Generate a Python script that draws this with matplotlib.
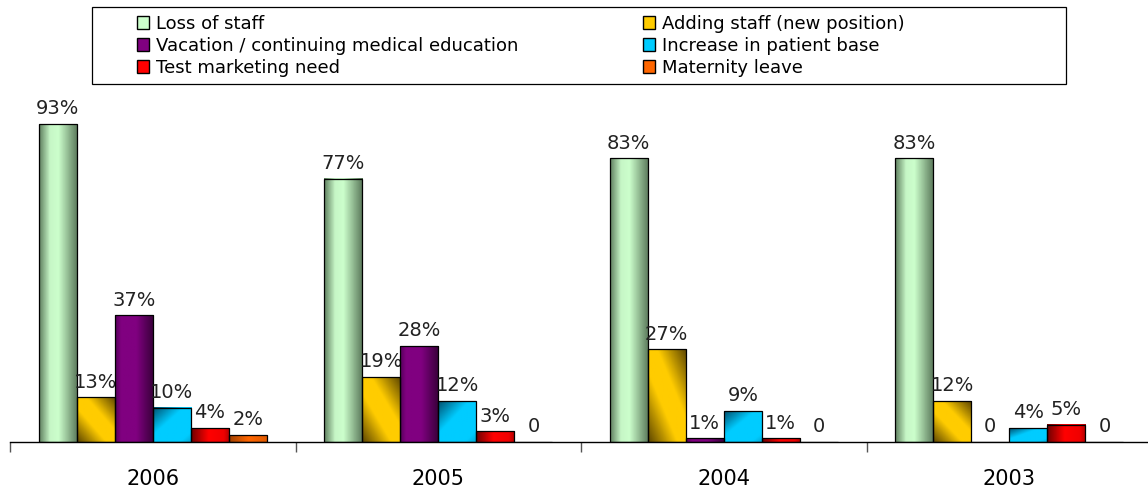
"""Reasons for hiring locum tenens, grouped by survey year."""

import matplotlib

matplotlib.use("Agg")

import matplotlib.pyplot as plt
import numpy as np
from matplotlib.colors import LinearSegmentedColormap
from matplotlib.patches import Patch, Rectangle

years = ["2006", "2005", "2004", "2003"]
reasons = [
    "Loss of staff",
    "Adding staff (new position)",
    "Vacation / continuing medical education",
    "Increase in patient base",
    "Test marketing need",
    "Maternity leave",
]
loss_of_staff = [93, 77, 83, 83]
adding_staff = [13, 19, 27, 12]
vacation_cme = [37, 28, 1, 0]
patient_base = [10, 12, 9, 4]
test_marketing = [4, 3, 1, 5]
maternity = [2, 0, 0, 0]
series = [loss_of_staff, adding_staff, vacation_cme, patient_base, test_marketing, maternity]

base_colors = ["#ccffcc", "#ffcc00", "#800080", "#00ccff", "#ff0000", "#ff6600"]
# (direction, colour stops) for the shaded bar faces
shading = [
    ("h", [(0, "#5f7f5f"), (0.28, "#c6f6c6"), (0.5, "#ccffcc"), (1, "#5a785a")]),
    ("d", [(0, "#5c4500"), (0.38, "#ffcc00"), (0.62, "#ffcc00"), (1, "#5c4500")]),
    ("h", [(0, "#55005a"), (0.15, "#800080"), (0.55, "#800080"), (1, "#38003a")]),
    ("a", [(0, "#004f6e"), (0.4, "#00ccff"), (0.85, "#00ccff"), (1, "#00a8d4")]),
    ("h", [(0, "#700000"), (0.45, "#ff0000"), (0.85, "#f00000"), (1, "#b00000")]),
    ("h", [(0, "#a04000"), (0.5, "#ff6600"), (1, "#e05a00")]),
]


def gradient_image(kind, stops, n=64):
    u, v = np.meshgrid(np.linspace(0, 1, n), np.linspace(0, 1, n))
    if kind == "h":
        t = u
    elif kind == "d":
        t = (u + v) / 2
    else:
        t = (u + 1 - v) / 2
    cmap = LinearSegmentedColormap.from_list("shade", stops)
    return cmap(t)


fig = plt.figure(figsize=(11.48, 4.94), dpi=100)
ax = fig.add_axes([10 / 1148, 52.3 / 494, 1142 / 1148, 351.9 / 494])

n_groups = len(years)
n_series = len(series)
width = 0.8 / n_series
x = np.arange(n_groups)

for j, values in enumerate(series):
    pos = x + 0.1 + (j + 0.5) * width
    bars = ax.bar(pos, values, width, facecolor="none", edgecolor="black",
                  linewidth=0.9, zorder=3)
    kind, stops = shading[j]
    img = gradient_image(kind, stops)
    for rect, val in zip(bars, values):
        if val <= 0:
            continue
        x0, y0 = rect.get_x(), rect.get_y()
        ax.imshow(img, extent=(x0, x0 + rect.get_width(), y0, y0 + rect.get_height()),
                  origin="lower", aspect="auto", interpolation="bilinear",
                  clip_path=rect, zorder=2)
    labels = [f"{v}%" if v else "0" for v in values]
    ax.bar_label(bars, labels=labels, padding=4, fontsize=14, color="#222222")

ax.set_xlim(0, n_groups)
ax.set_ylim(0, 103)

for side in ["left", "right", "top"]:
    ax.spines[side].set_visible(False)
ax.spines["bottom"].set_linewidth(1.0)
ax.set_yticks([])

ax.set_xticks(np.arange(n_groups + 1))
ax.set_xticklabels([])
ax.tick_params(axis="x", which="major", direction="out", length=7, width=1, color="#555555")
ax.set_xticks(x + 0.5, minor=True)
ax.set_xticklabels(years, minor=True, fontsize=15)
ax.tick_params(axis="x", which="minor", length=0, pad=20)

# legend frame, then the two columns of entries inside it
fig.patches.append(Rectangle((92 / 1148, 410 / 494), 974 / 1148, 77 / 494,
                             transform=fig.transFigure, facecolor="white",
                             edgecolor="black", linewidth=0.9))
handles = [Patch(facecolor=c, edgecolor="black", linewidth=1.0) for c in base_colors]
for col, (x_anchor, idx) in enumerate([(124, [0, 2, 4]), (630, [1, 3, 5])]):
    fig.legend([handles[i] for i in idx], [reasons[i] for i in idx],
               loc="upper left", bbox_to_anchor=(x_anchor / 1148, 492 / 494),
               frameon=False, fontsize=13, handlelength=0.7, handleheight=0.7,
               handletextpad=0.35, labelspacing=0.22, borderpad=0.2)

fig.savefig("out.png", dpi=100)
